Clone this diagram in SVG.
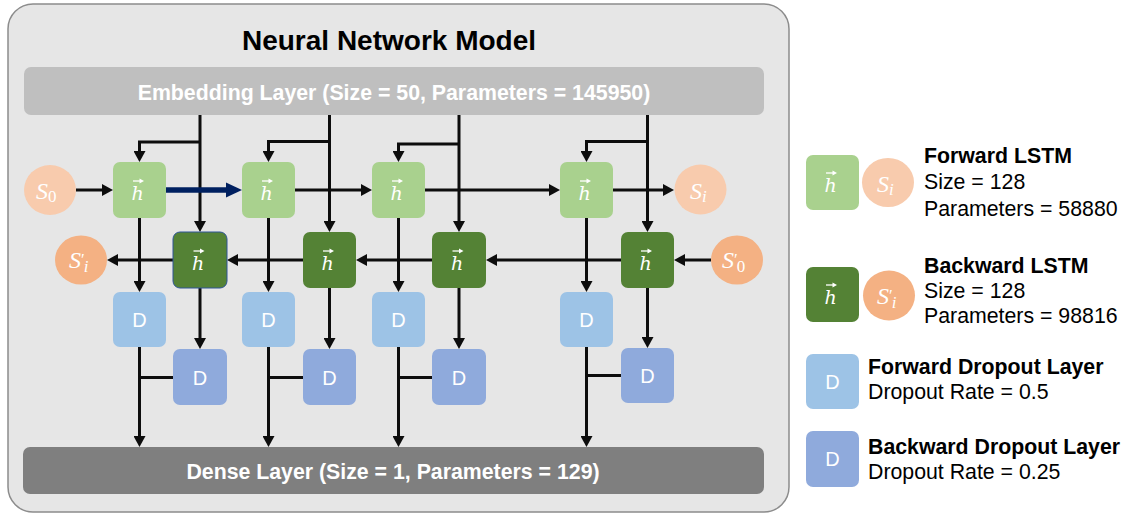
<svg xmlns="http://www.w3.org/2000/svg" width="1128" height="515" viewBox="0 0 1128 515">
  <defs>
    <style>
      .panel { fill: #e6e6e6; stroke: #8c8c8c; stroke-width: 1.5; }
      .title { font-family: "Liberation Sans", Arial, sans-serif; font-weight: bold; font-size: 28px; fill: #000; text-anchor: middle; }
      .bar-text { font-family: "Liberation Sans", Arial, sans-serif; font-weight: bold; font-size: 21.3px; fill: #fff; text-anchor: middle; }
      .fl { fill: #a9d18e; }
      .bl { fill: #548235; }
      .fd { fill: #9dc3e6; }
      .bd { fill: #8faadc; }
      .s-light { fill: #f8cbad; }
      .s-dark { fill: #f4b183; }
      .h { font-family: "DejaVu Serif", "Liberation Serif", serif; font-style: italic; font-size: 19px; fill: #fff; text-anchor: middle; }
      .d { font-family: "Liberation Sans", Arial, sans-serif; font-size: 20px; fill: #fff; text-anchor: middle; }
      .m { font-family: "Liberation Serif", "Times New Roman", serif; font-size: 24px; fill: #fff; }
      .mi { font-style: italic; }
      .sub { font-size: 17px; }
      .lg-head { font-family: "Liberation Sans", Arial, sans-serif; font-weight: bold; font-size: 21.3px; fill: #000; }
      .lg-text { font-family: "Liberation Sans", Arial, sans-serif; font-size: 21.3px; fill: #000; }
      .wire { fill: none; stroke: #0d0d0d; stroke-width: 3; }
      .arrow { marker-end: url(#head); }
      .thick { fill: none; stroke: #002060; stroke-width: 5.5; marker-end: url(#head-navy); }
    </style>
    <marker id="head" markerUnits="userSpaceOnUse" markerWidth="11" markerHeight="12" refX="3" refY="6" orient="auto">
      <path d="M0,0 L11,6 L0,12 z" fill="#0d0d0d"/>
    </marker>
    <marker id="head-navy" markerUnits="userSpaceOnUse" markerWidth="16" markerHeight="16" refX="4" refY="8" orient="auto">
      <path d="M0,0.5 L16,8 L0,15.5 z" fill="#002060"/>
    </marker>
    <!-- small vector accent placed over the hidden-state symbol -->
    <g id="vec">
      <path d="M-5,0 H3" stroke="#fff" stroke-width="1.3" fill="none"/>
      <path d="M1.5,-2.6 L6,0 L1.5,2.6 z" fill="#fff"/>
    </g>
  </defs>

  <!-- model panel -->
  <g id="model-panel">
    <rect class="panel" x="8" y="4" width="781" height="508" rx="25"/>
    <text class="title" x="389" y="50">Neural Network Model</text>
  </g>

  <g id="embedding-layer">
    <rect x="24" y="67" width="740" height="48" rx="7" fill="#bfbfbf"/>
    <text class="bar-text" x="394" y="100">Embedding Layer (Size = 50, Parameters = 145950)</text>
  </g>

  <g id="dense-layer">
    <rect x="23" y="447" width="741" height="47" rx="7" fill="#7f7f7f"/>
    <text class="bar-text" x="393" y="479">Dense Layer (Size = 1, Parameters = 129)</text>
  </g>

  <!-- connectors -->
  <g id="connectors">
    <!-- column 1 -->
    <path class="wire arrow" d="M200,115 V224"/>
    <path class="wire arrow" d="M200,142 H139.5 V154"/>
    <path class="wire arrow" d="M139.5,218 V284"/>
    <path class="wire arrow" d="M200,288 V341"/>
    <path class="wire arrow" d="M139.5,347 V439"/>
    <path class="wire" d="M173,377.5 H139.5"/>
    <!-- column 2 -->
    <path class="wire arrow" d="M329.5,115 V224"/>
    <path class="wire arrow" d="M329.5,141.5 H268.5 V154"/>
    <path class="wire arrow" d="M268.5,218 V284"/>
    <path class="wire arrow" d="M329.5,288 V341"/>
    <path class="wire arrow" d="M268.5,347 V439"/>
    <path class="wire" d="M303,377.5 H268.5"/>
    <!-- column 3 -->
    <path class="wire arrow" d="M459,115 V224"/>
    <path class="wire arrow" d="M459,144 H398.5 V154"/>
    <path class="wire arrow" d="M398.5,218 V284"/>
    <path class="wire arrow" d="M459,288 V341"/>
    <path class="wire arrow" d="M398.5,347 V439"/>
    <path class="wire" d="M432,377.5 H398.5"/>
    <!-- column 4 -->
    <path class="wire arrow" d="M647.5,115 V224"/>
    <path class="wire arrow" d="M647.5,141.5 H586.5 V154"/>
    <path class="wire arrow" d="M586.5,218 V284"/>
    <path class="wire arrow" d="M647.5,288 V340"/>
    <path class="wire arrow" d="M586.5,347 V439"/>
    <path class="wire" d="M621,375.5 H586.5"/>
    <!-- forward chain -->
    <path class="wire arrow" d="M76,190 H105"/>
    <path class="thick" d="M166,190 H230"/>
    <path class="wire arrow" d="M295,190 H364"/>
    <path class="wire arrow" d="M425,190 H552"/>
    <path class="wire arrow" d="M613,190 H666"/>
    <!-- backward chain -->
    <path class="wire arrow" d="M711,260 H682"/>
    <path class="wire arrow" d="M621,260 H494"/>
    <path class="wire arrow" d="M432,260 H364"/>
    <path class="wire arrow" d="M303,260 H235"/>
    <path class="wire arrow" d="M173,260 H115"/>
  </g>

  <!-- state circles -->
  <g id="s0">
    <ellipse class="s-light" cx="50" cy="190" rx="26" ry="25"/>
    <text class="m" x="36" y="199"><tspan class="mi">S</tspan><tspan class="sub" dy="3">0</tspan></text>
  </g>
  <g id="si">
    <ellipse class="s-light" cx="700.5" cy="189.5" rx="26" ry="25"/>
    <text class="m" x="690" y="199"><tspan class="mi">S</tspan><tspan class="sub mi" dy="3">i</tspan></text>
  </g>
  <g id="s0-prime">
    <ellipse class="s-dark" cx="737" cy="260" rx="26" ry="24.5"/>
    <text class="m" x="722" y="268"><tspan class="mi">S</tspan><tspan class="sub" dy="-3">′</tspan><tspan class="sub" dx="-1" dy="7">0</tspan></text>
  </g>
  <g id="si-prime">
    <ellipse class="s-dark" cx="81" cy="260" rx="26" ry="24.5"/>
    <text class="m" x="69" y="268"><tspan class="mi">S</tspan><tspan class="sub" dy="-3">′</tspan><tspan class="sub mi" dx="-1" dy="7">i</tspan></text>
  </g>

  <!-- forward LSTM cells -->
  <g id="fwd-lstm-1">
    <rect class="fl" x="113" y="162" width="53" height="56" rx="7"/>
    <text class="h" x="137.5" y="200">h</text>
    <use href="#vec" x="138" y="181"/>
  </g>
  <g id="fwd-lstm-2">
    <rect class="fl" x="242" y="162" width="53" height="56" rx="7"/>
    <text class="h" x="266.5" y="200">h</text>
    <use href="#vec" x="267" y="181"/>
  </g>
  <g id="fwd-lstm-3">
    <rect class="fl" x="372" y="162" width="53" height="56" rx="7"/>
    <text class="h" x="396.5" y="200">h</text>
    <use href="#vec" x="397" y="181"/>
  </g>
  <g id="fwd-lstm-4">
    <rect class="fl" x="560" y="162" width="53" height="56" rx="7"/>
    <text class="h" x="584.5" y="200">h</text>
    <use href="#vec" x="585" y="181"/>
  </g>

  <!-- backward LSTM cells -->
  <g id="bwd-lstm-1">
    <rect class="bl" x="173" y="232" width="54" height="56" rx="7" stroke="#2f5597" stroke-width="1"/>
    <text class="h" x="198" y="270">h</text>
    <use href="#vec" x="198.5" y="251"/>
  </g>
  <g id="bwd-lstm-2">
    <rect class="bl" x="303" y="232" width="53" height="56" rx="7"/>
    <text class="h" x="327.5" y="270">h</text>
    <use href="#vec" x="328" y="251"/>
  </g>
  <g id="bwd-lstm-3">
    <rect class="bl" x="432" y="232" width="54" height="56" rx="7"/>
    <text class="h" x="457" y="270">h</text>
    <use href="#vec" x="457.5" y="251"/>
  </g>
  <g id="bwd-lstm-4">
    <rect class="bl" x="621" y="232" width="53" height="56" rx="7"/>
    <text class="h" x="645.5" y="270">h</text>
    <use href="#vec" x="646" y="251"/>
  </g>

  <!-- forward dropout -->
  <g id="fwd-drop-1">
    <rect class="fd" x="113" y="292" width="53" height="55" rx="7"/>
    <text class="d" x="139.5" y="327">D</text>
  </g>
  <g id="fwd-drop-2">
    <rect class="fd" x="242" y="292" width="53" height="55" rx="7"/>
    <text class="d" x="268.5" y="327">D</text>
  </g>
  <g id="fwd-drop-3">
    <rect class="fd" x="372" y="292" width="53" height="55" rx="7"/>
    <text class="d" x="398.5" y="327">D</text>
  </g>
  <g id="fwd-drop-4">
    <rect class="fd" x="560" y="292" width="53" height="55" rx="7"/>
    <text class="d" x="586.5" y="327">D</text>
  </g>

  <!-- backward dropout -->
  <g id="bwd-drop-1">
    <rect class="bd" x="173" y="349" width="54" height="56" rx="7"/>
    <text class="d" x="200" y="385">D</text>
  </g>
  <g id="bwd-drop-2">
    <rect class="bd" x="303" y="349" width="53" height="56" rx="7"/>
    <text class="d" x="329.5" y="385">D</text>
  </g>
  <g id="bwd-drop-3">
    <rect class="bd" x="432" y="349" width="54" height="56" rx="7"/>
    <text class="d" x="459" y="385">D</text>
  </g>
  <g id="bwd-drop-4">
    <rect class="bd" x="621" y="348" width="53" height="55" rx="7"/>
    <text class="d" x="647.5" y="383">D</text>
  </g>

  <!-- legend -->
  <g id="legend-forward-lstm">
    <rect class="fl" x="806" y="155" width="53" height="55" rx="7"/>
    <text class="h" x="830.5" y="192">h</text>
    <use href="#vec" x="831" y="173"/>
    <ellipse class="s-light" cx="888" cy="182.5" rx="26" ry="24.5"/>
    <text class="m" x="877" y="192"><tspan class="mi">S</tspan><tspan class="sub mi" dy="3">i</tspan></text>
    <text class="lg-head" x="924" y="163">Forward LSTM</text>
    <text class="lg-text" x="924" y="189">Size = 128</text>
    <text class="lg-text" x="924" y="216">Parameters = 58880</text>
  </g>
  <g id="legend-backward-lstm">
    <rect class="bl" x="806" y="267" width="53" height="55" rx="7"/>
    <text class="h" x="830.5" y="304">h</text>
    <use href="#vec" x="831" y="285"/>
    <ellipse class="s-dark" cx="889" cy="295.5" rx="26" ry="25"/>
    <text class="m" x="877" y="304"><tspan class="mi">S</tspan><tspan class="sub" dy="-3">′</tspan><tspan class="sub mi" dx="-1" dy="7">i</tspan></text>
    <text class="lg-head" x="924" y="273">Backward LSTM</text>
    <text class="lg-text" x="924" y="298">Size = 128</text>
    <text class="lg-text" x="924" y="323">Parameters = 98816</text>
  </g>
  <g id="legend-forward-dropout">
    <rect class="fd" x="806" y="354" width="53" height="55" rx="7"/>
    <text class="d" x="832.5" y="389">D</text>
    <text class="lg-head" x="868" y="374">Forward Dropout Layer</text>
    <text class="lg-text" x="868" y="399">Dropout Rate = 0.5</text>
  </g>
  <g id="legend-backward-dropout">
    <rect class="bd" x="806" y="431" width="53" height="56" rx="7"/>
    <text class="d" x="832.5" y="466">D</text>
    <text class="lg-head" x="868" y="454">Backward Dropout Layer</text>
    <text class="lg-text" x="868" y="479">Dropout Rate = 0.25</text>
  </g>
</svg>
